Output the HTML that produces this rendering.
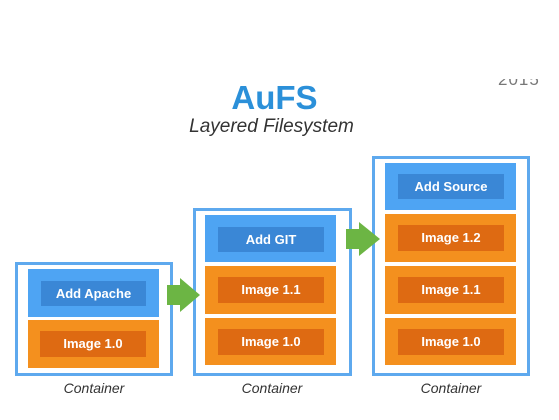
<!DOCTYPE html>
<html><head><style>
body{margin:0;width:559px;height:420px;background:#fff;position:relative;overflow:hidden;font-family:"Liberation Sans",sans-serif}
.a{position:absolute}
.c{position:absolute;border:3px solid #5ea9ee;box-sizing:border-box;background:#fff}
.b{position:absolute;background:#4ea4f3}
.o{position:absolute;background:#f4901e}
.l{position:absolute;color:#fff;font-weight:bold;font-size:13px;text-align:center}
.lb{background:#3a87d6}
.lo{background:#de6a12}
.cap{position:absolute;font-style:italic;font-size:14px;color:#333;text-align:center;width:160px}
</style></head><body>
<div class="a" style="left:498px;top:79px;width:50px;height:12px;overflow:hidden"><div style="position:absolute;top:-9px;left:0;font-size:17px;color:#777;letter-spacing:1px">2015</div></div>
<div class="a" style="left:0;right:0;top:79px;text-align:center;font-size:33px;font-weight:bold;color:#2b90d9;padding-right:10px">AuFS</div>
<div class="a" style="left:0;right:0;top:116px;text-align:center;font-size:19px;font-style:italic;color:#333;padding-right:16px">Layered Filesystem</div>

<div class="c" style="left:15px;top:262px;width:158px;height:114px"></div>
<div class="b" style="left:28px;top:269px;width:131px;height:48px"></div>
<div class="l lb" style="left:41px;top:281px;width:105px;height:25px;line-height:25px">Add Apache</div>
<div class="o" style="left:28px;top:320px;width:131px;height:48px"></div>
<div class="l lo" style="left:40px;top:331px;width:106px;height:26px;line-height:26px">Image 1.0</div>

<div class="c" style="left:193px;top:208px;width:159px;height:168px"></div>
<div class="b" style="left:205px;top:215px;width:131px;height:47px"></div>
<div class="l lb" style="left:218px;top:227px;width:106px;height:25px;line-height:25px">Add GIT</div>
<div class="o" style="left:205px;top:266px;width:131px;height:48px"></div>
<div class="l lo" style="left:218px;top:277px;width:106px;height:26px;line-height:26px">Image 1.1</div>
<div class="o" style="left:205px;top:318px;width:131px;height:47px"></div>
<div class="l lo" style="left:218px;top:329px;width:106px;height:26px;line-height:26px">Image 1.0</div>

<div class="c" style="left:372px;top:156px;width:158px;height:220px"></div>
<div class="b" style="left:385px;top:163px;width:131px;height:47px"></div>
<div class="l lb" style="left:398px;top:174px;width:106px;height:25px;line-height:25px">Add Source</div>
<div class="o" style="left:385px;top:214px;width:131px;height:48px"></div>
<div class="l lo" style="left:398px;top:225px;width:106px;height:26px;line-height:26px">Image 1.2</div>
<div class="o" style="left:385px;top:266px;width:131px;height:48px"></div>
<div class="l lo" style="left:398px;top:277px;width:106px;height:26px;line-height:26px">Image 1.1</div>
<div class="o" style="left:385px;top:318px;width:131px;height:47px"></div>
<div class="l lo" style="left:398px;top:329px;width:106px;height:26px;line-height:26px">Image 1.0</div>

<svg class="a" style="left:0;top:0" width="559" height="420">
<polygon points="167,285 180,285 180,278 200,295 180,312 180,305 167,305" fill="#6cb544"/>
<polygon points="346,229 359,229 359,222 380,239 359,256 359,249 346,249" fill="#6cb544"/>
</svg>

<div class="cap" style="left:14px;top:380px">Container</div>
<div class="cap" style="left:192px;top:380px">Container</div>
<div class="cap" style="left:371px;top:380px">Container</div>
</body></html>
